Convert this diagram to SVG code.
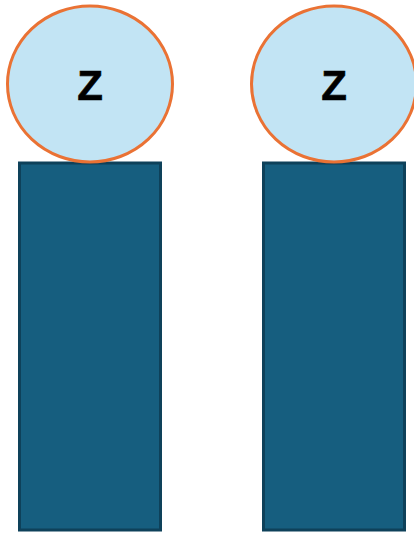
<svg xmlns="http://www.w3.org/2000/svg" width="414" height="533" viewBox="0 0 414 533">
<style>
.head{fill:#c2e4f4;stroke:#ea7234;stroke-width:3}
.body{fill:#165e7f;stroke:#0e415a;stroke-width:3}
.lbl{font-family:"Liberation Sans",Arial,sans-serif;font-weight:bold;font-size:42px;fill:#000;text-anchor:middle;stroke:#000;stroke-width:0.6}
</style>
<g id="connectors"></g>
<g id="body1"><rect class="body" x="19.5" y="163" width="141" height="367"/></g>
<g id="body2"><rect class="body" x="263.5" y="163" width="141" height="367"/></g>
<g id="head1"><ellipse class="head" cx="90" cy="84" rx="82.5" ry="78"/><text class="lbl" x="90" y="99.5">Z</text></g>
<g id="head2"><ellipse class="head" cx="334" cy="84" rx="82.5" ry="78"/><text class="lbl" x="334" y="99.5">Z</text></g>
</svg>
